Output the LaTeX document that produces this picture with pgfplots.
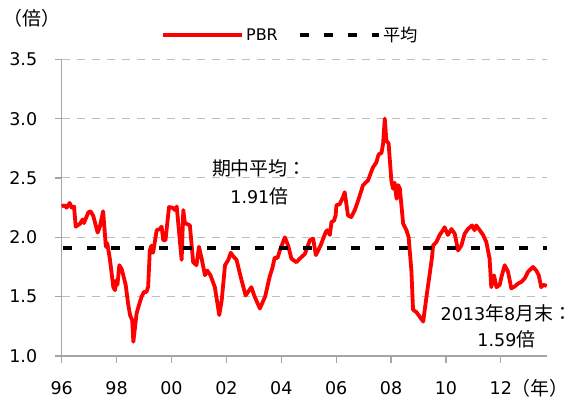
\documentclass[border=0pt]{standalone}
\usepackage{fontspec}
\setmainfont{DejaVu Sans}
\newfontfamily\jp[Scale=1.08]{Noto Sans CJK JP}
\usepackage{pgfplots}
\pgfplotsset{compat=1.18}
\definecolor{gridgray}{RGB}{190,190,190}
\definecolor{axgray}{RGB}{165,165,165}
\begin{document}
\begin{tikzpicture}
\begin{axis}[
  scale only axis, width=485pt, height=296.7pt,
  xmin=1996, xmax=2013.67, ymin=1, ymax=3.5,
  axis x line*=bottom, axis y line*=left,
  axis line style={-, draw=axgray, line width=1.3pt},
  tick style={draw=axgray, line width=1.2pt},
  tick align=outside, major tick length=7pt,
  xtick={1996,1998,2000,2002,2004,2006,2008,2010,2012},
  xticklabels={96,98,00,02,04,06,08,10,12},
  ytick={1,1.5,2,2.5,3,3.5},
  yticklabels={1.0,1.5,2.0,2.5,3.0,3.5},
  ticklabel style={font=\fontsize{17.5}{20}\selectfont},
  xticklabel style={inner sep=1pt},
  /pgf/number format/assume math mode=true,
  yticklabel shift=14pt, xticklabel shift=17.8pt,
  ymajorgrids, major grid style={draw=gridgray, line width=1pt, dash pattern=on 8pt off 7pt},
  legend style={at={(0.472,1.082)}, anchor=center, draw=none, fill=none,
    font=\fontsize{16}{18}\selectfont, legend columns=2,
    /tikz/every even column/.append style={column sep=18pt}},
  legend image code/.code={\draw[#1] (0pt,0pt) -- (79pt,0pt);},
  clip=false,
]
\addplot[red, line width=3.8pt, line join=round] coordinates {
(1996.00,2.26) (1996.10,2.27) (1996.18,2.25) (1996.29,2.29) (1996.36,2.25) (1996.45,2.26)
(1996.51,2.09) (1996.67,2.115) (1996.76,2.15) (1996.81,2.12) (1996.97,2.21) (1997.05,2.22)
(1997.15,2.18) (1997.31,2.04) (1997.39,2.09) (1997.51,2.22) (1997.61,1.92) (1997.66,1.95)
(1997.76,1.81) (1997.88,1.58) (1997.94,1.555) (1998.00,1.64) (1998.03,1.60) (1998.10,1.765)
(1998.19,1.73) (1998.33,1.60) (1998.42,1.44) (1998.49,1.345) (1998.57,1.30) (1998.61,1.12)
(1998.73,1.36) (1998.79,1.41) (1998.91,1.50) (1999.00,1.54) (1999.09,1.54) (1999.15,1.585)
(1999.21,1.89) (1999.27,1.93) (1999.33,1.87) (1999.46,2.06) (1999.58,2.07) (1999.64,2.09)
(1999.70,1.975) (1999.78,1.975) (1999.91,2.255) (2000.03,2.25) (2000.13,2.23) (2000.19,2.26)
(2000.27,2.06) (2000.37,1.81) (2000.43,2.23) (2000.49,2.115) (2000.55,2.115) (2000.67,2.10)
(2000.79,1.79) (2000.91,1.765) (2001.00,1.92) (2001.09,1.83) (2001.22,1.68) (2001.30,1.72)
(2001.42,1.68) (2001.58,1.58) (2001.74,1.345) (2001.83,1.47) (2001.95,1.765) (2002.07,1.81)
(2002.16,1.87) (2002.25,1.84) (2002.37,1.81) (2002.55,1.64) (2002.70,1.51) (2002.79,1.54)
(2002.91,1.58) (2003.03,1.50) (2003.22,1.40) (2003.41,1.50) (2003.58,1.67) (2003.68,1.745)
(2003.76,1.83) (2003.86,1.825) (2003.95,1.89) (2004.13,2.00) (2004.25,1.93) (2004.37,1.82)
(2004.55,1.79) (2004.67,1.82) (2004.86,1.86) (2005.04,1.975) (2005.16,1.99) (2005.26,1.85)
(2005.43,1.93) (2005.62,2.045) (2005.68,2.06) (2005.77,2.02) (2005.83,2.13) (2005.92,2.14)
(2005.98,2.185) (2006.01,2.27) (2006.13,2.28) (2006.25,2.34) (2006.31,2.38) (2006.43,2.185)
(2006.55,2.17) (2006.68,2.23) (2006.80,2.31) (2006.98,2.44) (2007.16,2.48) (2007.34,2.59)
(2007.46,2.63) (2007.55,2.70) (2007.65,2.71) (2007.71,2.79) (2007.77,3.00) (2007.83,2.815)
(2007.91,2.79) (2008.01,2.48) (2008.07,2.41) (2008.13,2.46) (2008.20,2.325) (2008.26,2.44)
(2008.32,2.41) (2008.44,2.115) (2008.56,2.06) (2008.64,2.00) (2008.74,1.72) (2008.80,1.39)
(2008.92,1.37) (2009.00,1.345) (2009.17,1.29) (2009.29,1.50) (2009.41,1.695) (2009.49,1.83)
(2009.53,1.93) (2009.65,1.96) (2009.77,2.02) (2009.89,2.06) (2009.95,2.085) (2010.07,2.02)
(2010.20,2.07) (2010.32,2.03) (2010.44,1.89) (2010.56,1.93) (2010.68,2.03) (2010.80,2.07)
(2010.95,2.10) (2011.04,2.06) (2011.10,2.10) (2011.23,2.06) (2011.35,2.02) (2011.47,1.96)
(2011.59,1.82) (2011.65,1.58) (2011.75,1.68) (2011.84,1.58) (2011.96,1.60) (2012.02,1.665)
(2012.14,1.765) (2012.26,1.71) (2012.38,1.57) (2012.50,1.585) (2012.62,1.61) (2012.75,1.625)
(2012.87,1.655) (2012.99,1.71) (2013.17,1.75) (2013.29,1.72) (2013.38,1.68) (2013.47,1.58)
(2013.55,1.60) (2013.67,1.59)
};
\addlegendentry{PBR}
\addplot[black, line width=4.5pt, dash pattern=on 9pt off 15pt] coordinates {(1996.05,1.91) (2013.67,1.91)};
\addlegendentry{{\jp 平均}}
\node[align=center, font=\fontsize{17.5}{28}\selectfont] at (axis cs:2003.2,2.46) {{\jp 期中平均：}\\1.91{\jp 倍}};
\node[align=center, font=\fontsize{17.5}{26}\selectfont] at (axis cs:2012.2,1.252) {2013{\jp 年}8{\jp 月末：}\\1.59{\jp 倍}};
\node[font=\fontsize{17.5}{20}\selectfont] at (rel axis cs:-0.0612,1.139) {\jp （倍）};
\node[font=\fontsize{17.5}{20}\selectfont, inner sep=0pt] at (rel axis cs:0.986,-0.108) {\jp （年）};
\end{axis}
\pgfresetboundingbox
\path (-61.7pt,-45pt) rectangle (523.3pt,356pt);
\end{tikzpicture}
\end{document}
